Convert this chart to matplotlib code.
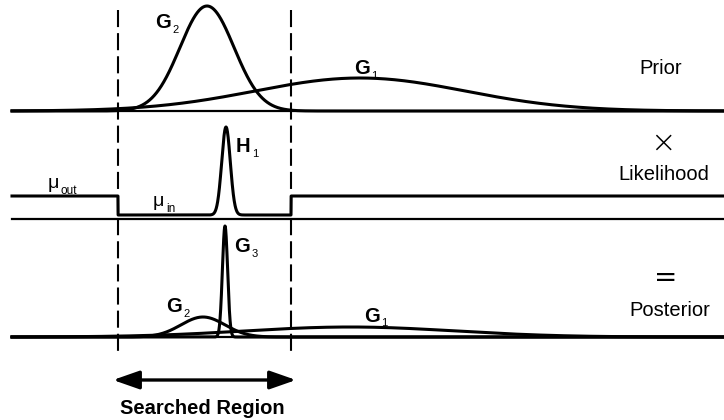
import numpy as np
import matplotlib.pyplot as plt

plt.rcParams['font.family'] = ['Liberation Sans', 'DejaVu Sans']

# search region bounds on the x axis
region = [118, 291]

# prior: two gaussian components (centre, width, height)
prior_mu = [360, 207]
prior_sigma = [105, 27]
prior_height = [33, 105]

# likelihood: flat levels outside / inside the region plus spike H1
mu_out = 23
mu_in = 4
h1_mu, h1_sigma, h1_height = 226, 4.3, 88

# posterior: three components
post_mu = [350, 203, 225]
post_sigma = [105, 22, 2.6]
post_height = [10, 20, 111]

# panel baselines (axis is in figure pixels, y pointing down)
base = {'prior': 111, 'like': 219, 'post': 337}
x = np.linspace(12, 724, 4000)


def gauss(x, mu, sigma, h):
    return h * np.exp(-(x - mu) ** 2 / (2 * sigma ** 2))


def label(ax, x, y, main, sub, bold=True, size=14.5, subsize=8):
    # main letter plus a small subscript next to it
    w = 'bold' if bold else 'normal'
    t = ax.text(x, y, main, fontsize=size, fontweight=w, ha='left', va='center')
    ax.annotate(sub, xy=(1, 0), xycoords=t, xytext=(1, 5.5), textcoords='offset points',
                fontsize=subsize, ha='left', va='top')


fig = plt.figure(figsize=(7.24, 4.2), dpi=100)
ax = fig.add_axes([0, 0, 1, 1])
ax.set_xlim(0, 724)
ax.set_ylim(420, 0)
ax.axis('off')

lw_curve = 2.2
lw_base = 1.6

# baselines
for b in base.values():
    ax.plot([12, 724], [b, b], color='black', lw=lw_base)

# dashed region bounds
for r in region:
    ax.plot([r, r], [10, 352], color='black', lw=1.5, linestyle=(0, (8.2, 2.9)))

# prior
for m, s, h in zip(prior_mu, prior_sigma, prior_height):
    ax.plot(x, base['prior'] - gauss(x, m, s, h), color='black', lw=lw_curve)

# likelihood
inside = (x >= region[0]) & (x <= region[1])
level = np.where(inside, mu_in, mu_out) + gauss(x, h1_mu, h1_sigma, h1_height)
ax.plot(x, base['like'] - level, color='black', lw=lw_curve)

# posterior
for m, s, h in zip(post_mu, post_sigma, post_height):
    ax.plot(x, base['post'] - gauss(x, m, s, h), color='black', lw=lw_curve)

# curve labels
label(ax, 155, 23, 'G', '2')
label(ax, 354, 69, 'G', '1')
label(ax, 236, 147, 'H', '1')
label(ax, 234, 247, 'G', '3')
label(ax, 166, 307, 'G', '2')
label(ax, 364, 316, 'G', '1')
label(ax, 48, 184, 'μ', 'out', bold=False, size=14, subsize=8.5)
label(ax, 153, 202, 'μ', 'in', bold=False, size=14, subsize=8.5)

# panel titles on the right
ax.text(661, 68, 'Prior', fontsize=14.5, ha='center', va='center')
ax.text(663, 143, '×', fontsize=22, ha='center', va='center', family='DejaVu Sans',
        fontweight='ultralight')
ax.text(664, 175, 'Likelihood', fontsize=14.5, ha='center', va='center')
ax.text(666, 278, '=', fontsize=20, ha='center', va='center', family='DejaVu Sans')
ax.text(670, 310, 'Posterior', fontsize=14.5, ha='center', va='center')

# searched region arrow
ax.annotate('', xy=(region[0] - 5, 380), xytext=(region[1] + 5, 380),
            arrowprops=dict(arrowstyle='<|-|>,head_length=0.8,head_width=0.28',
                            mutation_scale=20, lw=2.4, color='black',
                            shrinkA=0, shrinkB=0))
ax.text(sum(region) / 2 - 2, 408, 'Searched Region', fontsize=14.5,
        fontweight='bold', ha='center', va='center')

fig.savefig('out.png', dpi=100)
